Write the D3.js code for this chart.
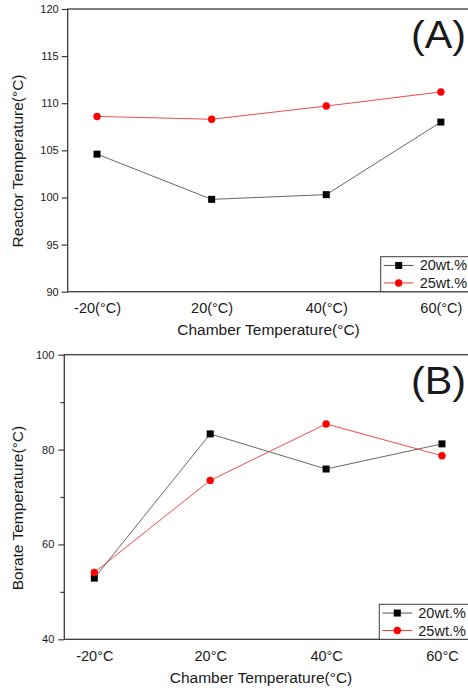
<!DOCTYPE html>
<html>
<head>
<meta charset="utf-8">
<script src="https://cdn.jsdelivr.net/npm/d3@7"></script>
<style>
    body { margin: 0; background: #fff; }
    svg { display: block; }
    text { font-family: "Liberation Sans", Arial, sans-serif; fill: #1a1a1a; }
</style>
</head>
<body>
<div id="chart"></div>
<script>

// chamber temperature categories
var reactorCategories = ["-20(°C)", "20(°C)", "40(°C)", "60(°C)"];
var borateCategories = ["-20°C", "20°C", "40°C", "60°C"];

// reactor temperature (°C)
var reactor20 = [104.6, 99.8, 100.3, 108.0];
var reactor25 = [108.6, 108.3, 109.7, 111.2];

// borate temperature (°C)
var borate20 = [52.9, 83.3, 75.9, 81.2];
var borate25 = [54.1, 73.5, 85.4, 78.7];

var reactorTicks = [90, 95, 100, 105, 110, 115, 120];
var borateTicks = [40, 60, 80, 100];
var borateMinorTicks = [50, 70, 90];

var seriesNames = ["20wt.%", "25wt.%"];


var svg = d3.select("#chart")
    .append("svg")
    .attr("width", 468)
    .attr("height", 689);


TempPanel = function(opts){

    this.opts = opts;
    this._g = svg.append("g");

    this._build_scales();
    this._draw_frame();
    this._draw_axes();
    this._draw_series();
    this._draw_legend();
    this._draw_labels();
};

TempPanel.prototype._build_scales = function(){

    var o = this.opts;

    this.x = d3.scalePoint()
        .domain(o.categories)
        .range([o.left, o.right])
        .padding(o.pad);

    this.y = d3.scaleLinear()
        .domain(o.domain)
        .range([o.bottom, o.top]);
};

TempPanel.prototype._draw_frame = function(){

    var o = this.opts;

    this._g.append("rect")
        .attr("x", o.left)
        .attr("y", o.top)
        .attr("width", o.right - o.left)
        .attr("height", o.bottom - o.top)
        .style("fill", "none")
        .style("stroke", "#3c3c3c")
        .style("stroke-width", 1.3);
};

TempPanel.prototype._draw_axes = function(){

    var o = this.opts;

    var yAxis = this._g.append("g")
        .attr("transform", "translate(" + o.left + ",0)")
        .call(d3.axisLeft(this.y).tickValues(o.ticks).tickSize(6).tickPadding(o.tickPad).tickFormat(d3.format("d")));

    yAxis.select(".domain").remove();
    yAxis.selectAll("line").style("stroke", "#3c3c3c").style("stroke-width", 1.2);
    yAxis.selectAll("text")
        .style("font-size", "11px")
        .style("font-family", "Liberation Sans, Arial, sans-serif")
        .style("fill", "#1a1a1a");

    if(o.minorTicks){
        this._g.append("g")
            .attr("transform", "translate(" + o.left + ",0)")
            .call(d3.axisLeft(this.y).tickValues(o.minorTicks).tickSize(4).tickFormat(""))
            .call(function(g){ g.select(".domain").remove(); })
            .selectAll("line").style("stroke", "#3c3c3c").style("stroke-width", 1.2);
    }

    var xAxis = this._g.append("g")
        .attr("transform", "translate(0," + o.bottom + ")")
        .call(d3.axisBottom(this.x).tickSize(0).tickPadding(11));

    xAxis.select(".domain").remove();
    xAxis.selectAll("text")
        .style("font-size", "14.5px")
        .style("font-family", "Liberation Sans, Arial, sans-serif")
        .style("fill", "#1a1a1a");
};

TempPanel.prototype._draw_series = function(){

    var o = this.opts;
    var self = this;

    var line = d3.line()
        .x(function(d, i){ return self.x(o.categories[i]); })
        .y(function(d){ return self.y(d); });

    this._g.append("path")
        .datum(o.s20)
        .attr("d", line)
        .style("fill", "none")
        .style("stroke", "#555")
        .style("stroke-width", 0.9);

    this._g.append("path")
        .datum(o.s25)
        .attr("d", line)
        .style("fill", "none")
        .style("stroke", "#e83a3a")
        .style("stroke-width", 0.9);

    this._g.selectAll(".sq")
        .data(o.s20)
        .enter()
        .append("rect")
        .attr("x", function(d, i){ return self.x(o.categories[i]) - 3.5; })
        .attr("y", function(d){ return self.y(d) - 3.5; })
        .attr("width", 7)
        .attr("height", 7)
        .style("fill", "#000");

    this._g.selectAll(".dot")
        .data(o.s25)
        .enter()
        .append("circle")
        .attr("cx", function(d, i){ return self.x(o.categories[i]); })
        .attr("cy", function(d){ return self.y(d); })
        .attr("r", 3.7)
        .style("fill", "#f00");
};

TempPanel.prototype._draw_legend = function(){

    var o = this.opts;
    var lx = o.legendX;
    var rowH = 17.5;
    var top = o.bottom - 2 * rowH;

    this._g.append("rect")
        .attr("x", lx)
        .attr("y", top)
        .attr("width", 100)
        .attr("height", 2 * rowH)
        .style("fill", "#fff")
        .style("stroke", "#3c3c3c")
        .style("stroke-width", 1);

    var colors = ["#555", "#e83a3a"];

    for(var i = 0; i < seriesNames.length; i++){

        var cy = top + rowH * (i + 0.5);

        this._g.append("line")
            .attr("x1", lx + 3)
            .attr("x2", lx + 33)
            .attr("y1", cy)
            .attr("y2", cy)
            .style("stroke", colors[i])
            .style("stroke-width", 1);

        if(i == 0){
            this._g.append("rect")
                .attr("x", lx + 18 - 3.5)
                .attr("y", cy - 3.5)
                .attr("width", 7)
                .attr("height", 7)
                .style("fill", "#000");
        } else {
            this._g.append("circle")
                .attr("cx", lx + 18)
                .attr("cy", cy)
                .attr("r", 3.7)
                .style("fill", "#f00");
        }

        this._g.append("text")
            .attr("x", lx + 39)
            .attr("y", cy + 5)
            .style("font-size", "14.5px")
            .text(seriesNames[i]);
    }
};

TempPanel.prototype._draw_labels = function(){

    var o = this.opts;

    this._g.append("text")
        .attr("x", o.titleX)
        .attr("y", o.titleY)
        .attr("text-anchor", "middle")
        .style("font-size", "15.5px")
        .text("Chamber Temperature(°C)");

    this._g.append("text")
        .attr("transform", "translate(23," + o.yTitleY + ") rotate(-90)")
        .attr("text-anchor", "middle")
        .style("font-size", "15.5px")
        .text(o.yTitle);

    this._g.append("text")
        .attr("x", 411)
        .attr("y", o.top + 39)
        .attr("textLength", 55)
        .attr("lengthAdjust", "spacingAndGlyphs")
        .style("font-size", "38px")
        .text(o.tag);
};


new TempPanel({
    categories: reactorCategories,
    s20: reactor20,
    s25: reactor25,
    domain: [90, 120],
    ticks: reactorTicks,
    left: 67.7, right: 470.2, top: 9, bottom: 291.7, pad: 0.256,
    tickPad: 3,
    legendX: 380.7,
    titleX: 268.5,
    titleY: 335,
    yTitle: "Reactor Temperature(°C)",
    yTitleY: 161,
    tag: "(A)"
});

new TempPanel({
    categories: borateCategories,
    s20: borate20,
    s25: borate25,
    domain: [40, 100],
    ticks: borateTicks,
    minorTicks: borateMinorTicks,
    left: 64.3, right: 472, top: 354.7, bottom: 639.3, pad: 0.259,
    tickPad: 4,
    legendX: 379.3,
    titleX: 261,
    titleY: 683.3,
    yTitle: "Borate Temperature(°C)",
    yTitleY: 508,
    tag: "(B)"
});

</script>
</body>
</html>
